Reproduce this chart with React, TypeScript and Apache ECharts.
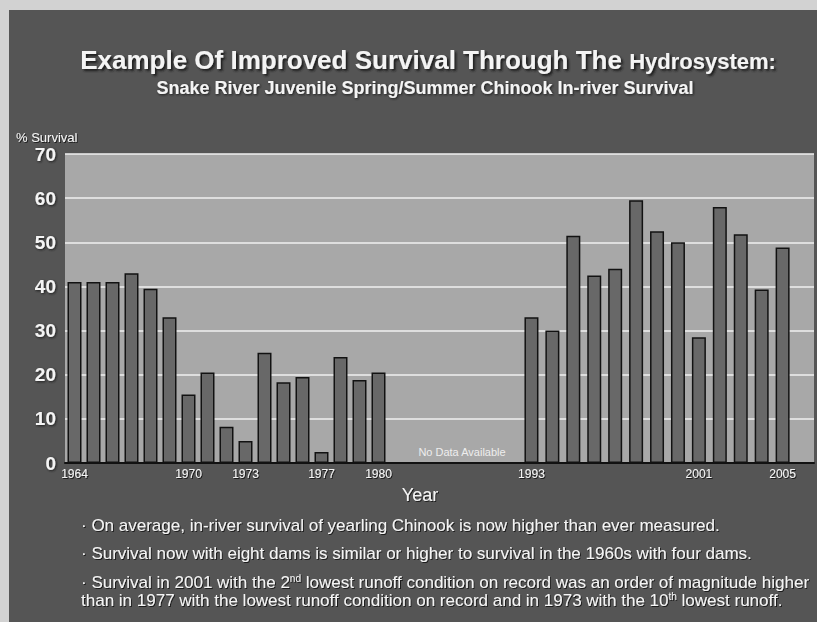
import React, { useEffect, useRef } from "react";
import * as echarts from "echarts";

// ---- data ----
const yearsEarly = ["1964","1965","1966","1967","1968","1969","1970","1971","1972","1973","1974","1975","1976","1977","1978","1979","1980"];
const survivalEarly = [41, 41, 41, 43, 39.5, 33, 15.5, 20.5, 8.2, 5, 25, 18.3, 19.5, 2.5, 24, 18.8, 20.5];
const yearsRecent = ["1993","1994","1995","1996","1997","1998","1999","2000","2001","2002","2003","2004","2005"];
const survivalRecent = [33, 30, 51.5, 42.5, 44, 59.5, 52.5, 50, 28.5, 58, 51.8, 39.3, 48.8];
const tickYears = ["1964","1970","1973","1977","1980","1993","2001","2005"];
const yTicks = [0, 10, 20, 30, 40, 50, 60, 70];
const gapSlots = 7; // no-data years compressed on the axis
const bullets = [
  "· On average, in-river survival of yearling Chinook is now higher than ever measured.",
  "· Survival now with eight dams is similar or higher to survival in the 1960s with four dams.",
  "· Survival in 2001 with the 2{sup|nd} lowest runoff condition on record was an order of magnitude higher",
  "than in 1977 with the lowest runoff condition on record and in 1973 with the 10{sup|th} lowest runoff.",
];

const FONT = "'Liberation Sans', Arial, sans-serif";
const WHITE = "#f4f4f4";
const SHADOW = "#1a1a1a";

export default function App() {
  const ref = useRef<HTMLDivElement>(null);
  useEffect(() => {
    if (!ref.current) return;
    const chart = echarts.init(ref.current, null, { renderer: "svg" });
    const catsA = yearsEarly.concat(Array(gapSlots).fill(""));
    const catsB = yearsRecent.concat([""]);
    const gridTop = 144, gridH = 309;
    const xLabel = {
      color: WHITE,
      fontSize: 12,
      fontFamily: FONT,
      margin: 5,
      interval: (_i: number, v: string) => tickYears.includes(v),
      textShadowColor: SHADOW,
      textShadowBlur: 1,
      textShadowOffsetX: 1,
      textShadowOffsetY: 1,
    };
    const yAxisBase = {
      type: "value",
      min: 0,
      max: 70,
      interval: 10,
      axisLine: { show: false },
      axisTick: { show: false },
      splitLine: { lineStyle: { color: "#f0f0f0", width: 1.6 } },
    };
    const barStyle = { color: "#686868", borderColor: "#121212", borderWidth: 1.5 };
    chart.setOption({
      animation: false,
      backgroundColor: "#555555",
      grid: [
        { left: 56, top: gridTop, width: 456, height: gridH, show: true, backgroundColor: "#a8a8a8", borderWidth: 0 },
        { left: 512, top: gridTop, width: 293, height: gridH, show: true, backgroundColor: "#a8a8a8", borderWidth: 0 },
      ],
      xAxis: [
        {
          type: "category", gridIndex: 0, data: catsA,
          axisLine: { lineStyle: { color: "#111", width: 2 } },
          axisTick: { show: false }, axisLabel: xLabel,
        },
        {
          type: "category", gridIndex: 1, data: catsB,
          axisLine: { lineStyle: { color: "#111", width: 2 } },
          axisTick: { show: false }, axisLabel: xLabel,
        },
      ],
      yAxis: [
        {
          ...yAxisBase, gridIndex: 0,
          axisLabel: {
            color: WHITE, fontSize: 19, fontWeight: "bold", fontFamily: FONT, margin: 9,
            formatter: (v: number) => (yTicks.includes(v) ? String(v) : ""),
            textShadowColor: SHADOW, textShadowBlur: 2, textShadowOffsetX: 1, textShadowOffsetY: 1,
          },
        },
        { ...yAxisBase, gridIndex: 1, axisLabel: { show: false } },
      ],
      series: [
        {
          type: "bar", xAxisIndex: 0, yAxisIndex: 0, barWidth: 14,
          data: survivalEarly, itemStyle: barStyle,
        },
        {
          type: "bar", xAxisIndex: 1, yAxisIndex: 1, barWidth: 14,
          data: survivalRecent, itemStyle: barStyle,
        },
      ],
      graphic: [
        {
          type: "text", x: 419, y: 50,
          style: {
            text: "{a|Example Of Improved Survival Through The }{b|Hydrosystem:}",
            align: "center", verticalAlign: "middle",
            rich: {
              a: { fontSize: 26, fontWeight: "bold", fontFamily: FONT, fill: WHITE, textShadowColor: SHADOW, textShadowBlur: 2, textShadowOffsetX: 2, textShadowOffsetY: 2 },
              b: { fontSize: 22, fontWeight: "bold", fontFamily: FONT, fill: WHITE, textShadowColor: SHADOW, textShadowBlur: 2, textShadowOffsetX: 2, textShadowOffsetY: 2, padding: [3, 0, 0, 0] },
            },
          },
        },
        {
          type: "text", x: 416, y: 78,
          style: {
            text: "Snake River Juvenile Spring/Summer Chinook In-river Survival",
            align: "center", verticalAlign: "middle",
            font: `bold 18px ${FONT}`, fill: WHITE,
            textShadowColor: SHADOW, textShadowBlur: 2, textShadowOffsetX: 1, textShadowOffsetY: 1,
          },
        },
        {
          type: "text", x: 7, y: 127,
          style: {
            text: "% Survival", verticalAlign: "middle",
            font: `13px ${FONT}`, fill: WHITE,
            textShadowColor: SHADOW, textShadowBlur: 1, textShadowOffsetX: 1, textShadowOffsetY: 1,
          },
        },
        {
          type: "text", x: 411, y: 485,
          style: {
            text: "Year", align: "center", verticalAlign: "middle",
            font: `18px ${FONT}`, fill: WHITE,
            textShadowColor: SHADOW, textShadowBlur: 1, textShadowOffsetX: 1, textShadowOffsetY: 1,
          },
        },
        {
          type: "text", x: 453, y: 442,
          style: {
            text: "No Data Available", align: "center", verticalAlign: "middle",
            font: `11px ${FONT}`, fill: "#eeeeee",
          },
        },
        ...bullets.map((t, i) => ({
          type: "text", x: 72, y: [515, 543, 572, 590][i],
          style: {
            text: t, verticalAlign: "middle",
            font: `17px ${FONT}`, fill: WHITE,
            textShadowColor: SHADOW, textShadowBlur: 1, textShadowOffsetX: 1, textShadowOffsetY: 1,
            rich: {
              sup: { fontSize: 10, fontFamily: FONT, fill: WHITE, verticalAlign: "top", padding: [0, 0, 7, 0] },
            },
          },
        })),
      ],
    });
    return () => chart.dispose();
  }, []);
  return (
    <div style={{ position: "fixed", left: 0, top: 0, width: 817, height: 622, background: "#d2d2d2" }}>
      <div ref={ref} style={{ position: "absolute", left: 9, top: 10, width: 808, height: 612 }} />
    </div>
  );
}
